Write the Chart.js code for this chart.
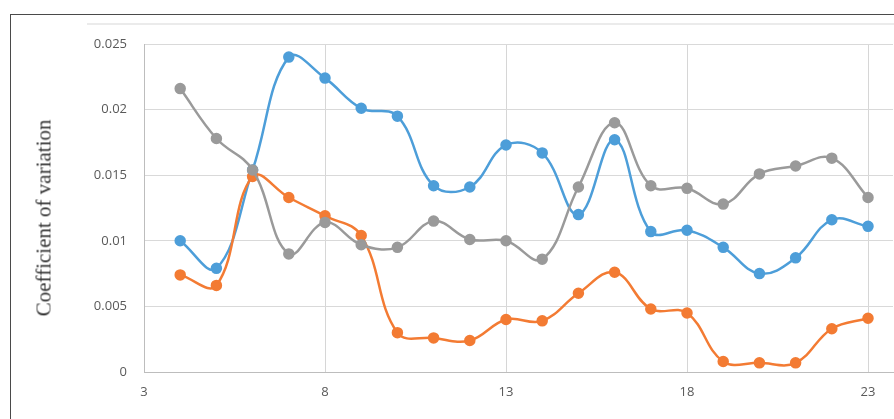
<!DOCTYPE html>
<html>
<head>
<meta charset="utf-8">
<script src="https://cdn.jsdelivr.net/npm/chart.js@4.4.1/dist/chart.umd.min.js"></script>
<style>
  html, body { margin: 0; padding: 0; background: #fff; overflow: hidden; width: 894px; height: 419px; }
  #wrap { position: relative; width: 894px; height: 419px; overflow: hidden; }
  #frame { position: absolute; left: 10px; top: 14px; width: 884px; height: 405px;
           border-left: 1px solid #4a4a4a; border-top: 1px solid #4a4a4a; box-sizing: border-box; }
  #rule { position: absolute; left: 87px; top: 23px; width: 807px; height: 2px; background: #ebebeb; }
  #ytitle { position: absolute; left: 44px; top: 218px; transform: translate(-50%, -50%) rotate(-90deg);
            font-family: "Liberation Serif", "DejaVu Serif", serif; font-size: 21px; color: #333;
            white-space: nowrap; }
  canvas { position: absolute; left: 0; top: 0; }
</style>
</head>
<body>
<div id="wrap">
  <div id="frame"></div>
  <div id="rule"></div>
  <!-- canvas is a few px wider than the window so the plot runs to the right edge -->
  <canvas id="chart" width="900" height="419"></canvas>
  <div id="ytitle">Coefficient of variation</div>
</div>
<script>
// x positions (shared by all series)
const xValues = [4, 5, 6, 7, 8, 9, 10, 11, 12, 13, 14, 15, 16, 17, 18, 19, 20, 21, 22, 23];

// series values
const blueSeries = [0.0100, 0.0079, 0.0154, 0.0240, 0.0224, 0.0201, 0.0195, 0.0142, 0.0141, 0.0173,
                    0.0167, 0.0120, 0.0177, 0.0107, 0.0108, 0.0095, 0.0075, 0.0087, 0.0116, 0.0111];
const orangeSeries = [0.0074, 0.0066, 0.0149, 0.0133, 0.0119, 0.0104, 0.0030, 0.0026, 0.0024, 0.0040,
                      0.0039, 0.0060, 0.0076, 0.0048, 0.0045, 0.0008, 0.0007, 0.0007, 0.0033, 0.0041];
const graySeries = [0.0216, 0.0178, 0.0154, 0.0090, 0.0114, 0.0097, 0.0095, 0.0115, 0.0101, 0.0100,
                    0.0086, 0.0141, 0.0190, 0.0142, 0.0140, 0.0128, 0.0151, 0.0157, 0.0163, 0.0133];

// axis ticks
const xTicks = [3, 8, 13, 18, 23];
const yTicks = [0, 0.005, 0.01, 0.015, 0.02, 0.025];

function toPoints(values) {
  return values.map((v, i) => ({ x: xValues[i], y: v }));
}

function makeSet(label, values, color, order) {
  return {
    label: label,
    data: toPoints(values),
    borderColor: color,
    backgroundColor: color,
    borderWidth: 2.5,
    pointRadius: 4.5,
    pointHoverRadius: 4.5,
    tension: 0.4,
    order: order
  };
}

const tickFont = { family: "'Open Sans', 'DejaVu Sans', sans-serif", size: 13 };

new Chart(document.getElementById('chart').getContext('2d'), {
  type: 'line',
  data: {
    datasets: [
      makeSet('Series 1', blueSeries, '#4d9ed9', 2),
      makeSet('Series 2', orangeSeries, '#f37b33', 1),
      makeSet('Series 3', graySeries, '#9a9a9a', 0)
    ]
  },
  options: {
    responsive: false,
    animation: false,
    layout: { padding: { top: 44, right: 0, left: 0, bottom: 0 } },
    plugins: { legend: { display: false }, tooltip: { enabled: false } },
    scales: {
      x: {
        type: 'linear',
        min: 3,
        max: 23.69,
        afterBuildTicks: (scale) => { scale.ticks = xTicks.map(v => ({ value: v })); },
        afterFit: (scale) => { scale.height = 47; },
        ticks: { color: '#595959', font: tickFont, padding: 12, maxRotation: 0 },
        grid: { color: '#d6d6d6', lineWidth: 1, drawTicks: false },
        border: { color: '#bdbdbd', width: 1 }
      },
      y: {
        min: 0,
        max: 0.025,
        afterBuildTicks: (scale) => { scale.ticks = yTicks.map(v => ({ value: v })); },
        afterFit: (scale) => { scale.width = 144; },
        ticks: {
          color: '#595959',
          font: tickFont,
          padding: 17,
          callback: (v) => String(v)
        },
        grid: { color: '#d9d9d9', lineWidth: 1, drawTicks: false },
        border: { color: '#bdbdbd', width: 1 }
      }
    }
  }
});
</script>
</body>
</html>
